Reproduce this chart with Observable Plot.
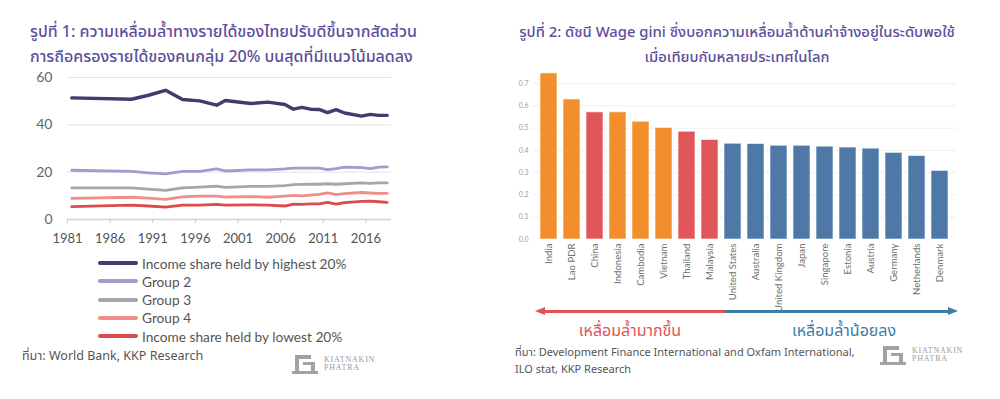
<!DOCTYPE html>
<html><head><meta charset="utf-8">
<script src="https://cdn.jsdelivr.net/npm/d3@7"></script>
<script src="https://cdn.jsdelivr.net/npm/@observablehq/plot@0.6"></script>
<style>
body{margin:0;background:#fff;}
#page{position:relative;width:1000px;height:399px;overflow:hidden;background:#fff;font-family:"Noto Sans Thai","Noto Sans","DejaVu Sans",sans-serif;}
.abs{position:absolute;white-space:nowrap;}
.title{color:#5b4e9c;font-size:16px;font-weight:500;line-height:25px;}
.legrow{position:absolute;left:98px;height:18px;display:flex;align-items:center;font-family:Lato,"Noto Sans",sans-serif;font-size:13.7px;color:#555;}
.legsw{width:40px;height:4px;border-radius:2px;margin-right:4px;}
.src{font-size:12.5px;color:#555;}
.logotxt{font-family:"Liberation Serif",serif;color:#9b9b9b;font-size:8px;letter-spacing:0.8px;line-height:8px;}
.lg{position:absolute;background:#a2a2a2;}
</style></head>
<body><div id="page"></div>
<script>
// ---------- Figure 1 data (income shares, Thailand) ----------
const years = [1981,1988,1990,1992,1994,1996,1998,1999,2002,2004,2006,2007,2008,2009,2010,2011,2012,2013,2015,2016,2017,2018];
const seriesNames = ["Income share held by highest 20%","Group 2","Group 3","Group 4","Income share held by lowest 20%"];
const highest20 = [51.4,50.8,52.5,54.6,50.7,50.1,48.3,50.3,49.0,49.6,48.6,46.6,47.4,46.6,46.5,45.2,46.4,45.0,43.7,44.4,44.0,44.0];
const group2    = [20.8,20.3,19.7,19.3,20.3,20.3,21.4,20.5,21.0,21.0,21.4,21.7,21.7,21.7,21.7,21.1,21.5,22.1,21.9,21.5,22.1,22.2];
const group3    = [13.4,13.4,12.8,12.3,13.4,13.7,14.1,13.6,14.0,14.0,14.3,14.7,14.8,14.9,14.9,15.1,14.9,15.1,15.5,15.3,15.5,15.5];
const group4    = [8.9,9.4,9.0,8.5,9.6,9.9,9.9,9.5,9.7,9.4,9.9,10.2,10.0,10.3,10.6,11.2,10.5,10.9,11.4,11.2,11.0,11.0];
const lowest20  = [5.4,6.1,5.7,5.2,6.1,6.1,6.4,6.1,6.2,6.1,5.7,6.5,6.4,6.6,6.6,7.2,6.5,7.1,7.7,7.8,7.5,7.2];
const xTickYears = [1981,1986,1991,1996,2001,2006,2011,2016];
const yTicksL = [0,20,40,60];

// ---------- Figure 2 data (wage gini) ----------
const countries = ["India","Lao PDR","China","Indonesia","Cambodia","Vietnam","Thailand","Malaysia","United States","Australia","United Kingdom","Japan","Singapore","Estonia","Austria","Germany","Netherlands","Denmark"];
const wageGini = [0.746,0.629,0.571,0.571,0.529,0.501,0.484,0.447,0.430,0.429,0.421,0.421,0.417,0.413,0.408,0.389,0.375,0.308];
const incomeGroup = ["L","L","U","L","L","L","U","U","H","H","H","H","H","H","H","H","H","H"];
const groupNames = ["L","U","H"];
const yTicksR = [0,0.1,0.2,0.3,0.4,0.5,0.6,0.7];

// ---------- text ----------
const title1 = ["รูปที่ 1: ความเหลื่อมล้ำทางรายได้ของไทยปรับดีขึ้นจากสัดส่วน","การถือครองรายได้ของคนกลุ่ม 20% บนสุดที่มีแนวโน้มลดลง"];
const title2 = ["รูปที่ 2: ดัชนี Wage gini ซึ่งบอกความเหลื่อมล้ำด้านค่าจ้างอยู่ในระดับพอใช้","เมื่อเทียบกับหลายประเทศในโลก"];
const source1 = "ที่มา: World Bank, KKP Research";
const source2 = ["ที่มา: Development Finance International and Oxfam International,","ILO stat, KKP Research"];
const arrowLabels = ["เหลื่อมล้ำมากขึ้น","เหลื่อมล้ำน้อยลง"];

// styles
const seriesColors = ["#3f3c70","#a09ccb","#a6a6a6","#ef8f8a","#dc4b49"];
const groupColors = ["#f28e2b","#e15759","#4e79a7"];
const NUMFONT = "Lato, 'Noto Sans', sans-serif";

const page = document.getElementById("page");
function add(html, css, cls){const d=document.createElement("div");d.className="abs "+(cls||"");d.innerHTML=html;Object.assign(d.style,css);page.appendChild(d);return d;}

// titles
add(title1.join("<br>"), {left:"30px",top:"20px"}, "title");
add(title2.join("<br>"), {left:"500px",top:"20px",width:"474px",textAlign:"center",fontSize:"14.8px"}, "title");

// ---------- left chart ----------
const vals = [highest20, group2, group3, group4, lowest20];
const rows = years.flatMap((yr,i)=>seriesNames.map((s,j)=>({year:yr, series:s, value:vals[j][i]})));
const left = Plot.plot({
  width: 440, height: 200,
  marginLeft: 67, marginRight: 49, marginTop: 17, marginBottom: 41,
  style: {fontFamily: NUMFONT, background: "transparent", overflow: "visible"},
  x: {domain: [1981, 2019]},
  y: {domain: [0, 60]},
  marks: [
    Plot.ruleY(yTicksL.filter(v=>v>0), {stroke:"#e4e4e4", strokeWidth:1}),
    Plot.ruleY([0], {stroke:"#d2d2d2", strokeWidth:1.5}),
    Plot.axisY({ticks: yTicksL, tickSize:0, tickPadding:15, fontSize:14, fill:"#666", label:null}),
    Plot.axisX({ticks: xTickYears, tickFormat: d=>String(d), tickSize:4, tickPadding:10, stroke:"#c8c8c8", fill:"#555", fontSize:13, label:null}),
    ...seriesNames.map((s,j)=>Plot.line(rows.filter(r=>r.series===s), {x: r=>r.year+0.5, y:"value", stroke: seriesColors[j], strokeWidth: j===0?3.4:2.8, strokeLinejoin:"round"}))
  ]
});
Object.assign(left.style,{position:"absolute",left:"0px",top:"60px"});
page.appendChild(left);

// legend
seriesNames.forEach((s,j)=>{
  const r=document.createElement("div");r.className="legrow";r.style.top=(254+j*18.3)+"px";
  r.innerHTML=`<div class="legsw" style="background:${seriesColors[j]}"></div><span>${s}</span>`;
  page.appendChild(r);
});
add(source1,{left:"22px",top:"347px"},"src");

// ---------- right chart ----------
const barRows = countries.map((c,i)=>({country:c, gini:wageGini[i], group:incomeGroup[i]}));
const right = Plot.plot({
  width: 480, height: 250,
  marginLeft: 33, marginRight: 24, marginTop: 12, marginBottom: 71,
  style: {fontFamily: NUMFONT, background: "transparent", overflow: "visible"},
  x: {domain: countries, paddingInner: 0.25, paddingOuter: 0.12},
  y: {domain: [0, 0.75]},
  color: {domain: groupNames, range: groupColors},
  marks: [
    Plot.ruleY(yTicksR.filter(v=>v>0), {stroke:"#efefef"}),
    Plot.barY(barRows, {x:"country", y:"gini", fill:"group", stroke:"#ffffff", strokeOpacity:0.6, strokeWidth:1}),
    Plot.axisY({ticks: yTicksR, tickFormat: d=>d.toFixed(1), tickSize:0, tickPadding:5, fontSize:7, fill:"#a0a0a0", label:null}),
    Plot.axisX({tickRotate:-90, tickSize:0, tickPadding:4, fontSize:9.6, fill:"#707070", label:null})
  ]
});
Object.assign(right.style,{position:"absolute",left:"500px",top:"60px"});
page.appendChild(right);

// arrow annotation
add("",{left:"540px",top:"310px",width:"186px",height:"3px",background:"#e05454"});
add("",{left:"725px",top:"310px",width:"226px",height:"3px",background:"#3b7da6"});
add("",{left:"535px",top:"307px",width:"0",height:"0",borderTop:"4.5px solid transparent",borderBottom:"4.5px solid transparent",borderRight:"10px solid #e05454"});
add("",{left:"948px",top:"307px",width:"0",height:"0",borderTop:"4.5px solid transparent",borderBottom:"4.5px solid transparent",borderLeft:"10px solid #3b7da6"});
add(arrowLabels[0],{left:"530px",top:"320px",width:"200px",textAlign:"center",fontSize:"16px",lineHeight:"22px",color:"#e05454"});
add(arrowLabels[1],{left:"744px",top:"320px",width:"200px",textAlign:"center",fontSize:"16px",lineHeight:"22px",color:"#3b7da6"});
add(source2.join("<br>"),{left:"515px",top:"344px",lineHeight:"17px",fontSize:"11px"},"src");

// logos
function logo(x,y){
  add("",{left:x+"px",top:y+"px",width:"4px",height:"16px"},"lg");
  add("",{left:x+"px",top:y+"px",width:"16px",height:"4px"},"lg");
  add("",{left:(x+8)+"px",top:(y+7)+"px",width:"12px",height:"3px"},"lg");
  add("",{left:(x+16)+"px",top:(y+7)+"px",width:"4px",height:"9px"},"lg");
  add("",{left:(x-3)+"px",top:(y+16)+"px",width:"26px",height:"3px"},"lg");
  add("KIATNAKIN<br>PHATRA",{left:(x+29)+"px",top:(y+1)+"px"},"logotxt");
}
logo(295,355);
logo(883,346);
</script></body></html>
